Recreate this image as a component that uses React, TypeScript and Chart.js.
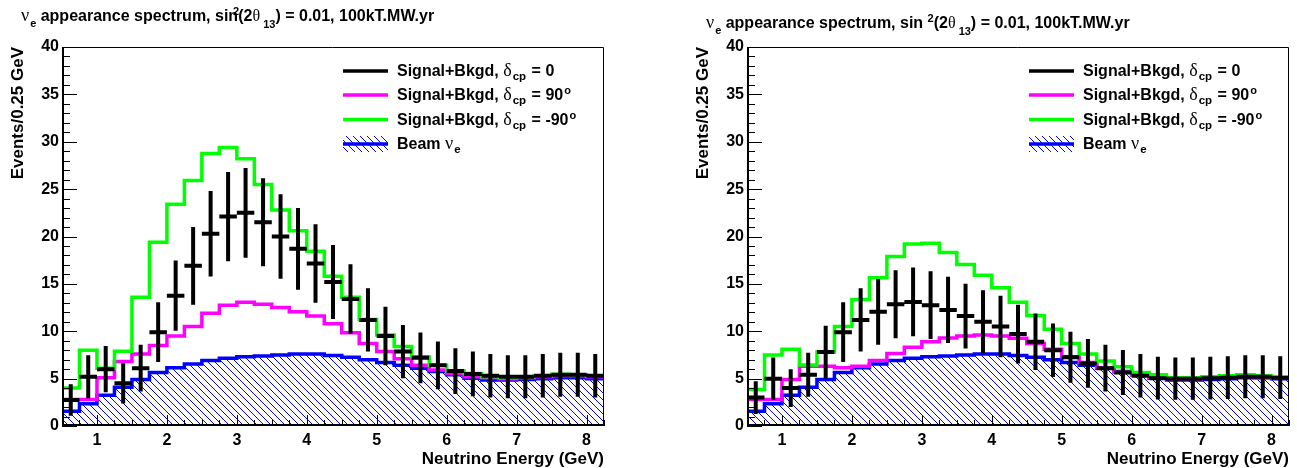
import React, { useEffect, useRef } from "react";
import { Chart, registerables } from "chart.js";

Chart.register(...registerables);

// ---------- data ----------
const binEdges = [0.5, 0.75, 1, 1.25, 1.5, 1.75, 2, 2.25, 2.5, 2.75, 3, 3.25, 3.5, 3.75, 4, 4.25, 4.5, 4.75, 5, 5.25, 5.5, 5.75, 6, 6.25, 6.5, 6.75, 7, 7.25, 7.5, 7.75, 8, 8.25];

const xTickLabels = [1, 2, 3, 4, 5, 6, 7, 8];
const yTickLabels = [0, 5, 10, 15, 20, 25, 30, 35, 40];

const beamNue = [1.55, 2.35, 3.25, 4.1, 4.9, 5.65, 6.15, 6.55, 6.9, 7.15, 7.3, 7.4, 7.5, 7.6, 7.6, 7.45, 7.25, 7.0, 6.7, 6.4, 6.1, 5.75, 5.4, 5.05, 4.85, 4.85, 4.9, 5.0, 5.1, 5.1, 5.0];

const leftSignal0 = [2.75, 5.2, 6.0, 4.5, 6.1, 9.9, 13.75, 16.9, 20.3, 22.1, 22.5, 21.5, 20.0, 18.7, 17.15, 15.2, 13.4, 11.2, 9.5, 7.85, 7.2, 6.4, 5.8, 5.5, 5.3, 5.2, 5.2, 5.3, 5.4, 5.4, 5.3];
const leftErr0 = [1.66, 2.28, 2.45, 2.12, 2.47, 3.15, 3.71, 4.11, 4.51, 4.7, 4.74, 4.64, 4.47, 4.32, 4.14, 3.9, 3.66, 3.35, 3.08, 2.8, 2.68, 2.53, 2.41, 2.35, 2.3, 2.28, 2.28, 2.3, 2.32, 2.32, 2.3];
const leftSignal90 = [2.8, 2.8, 5.1, 6.8, 7.6, 8.5, 9.5, 10.5, 11.9, 12.75, 13.05, 12.85, 12.5, 12.05, 11.6, 10.8, 9.85, 8.7, 7.85, 7.1, 6.4, 5.9, 5.55, 5.2, 5.1, 5.0, 5.1, 5.2, 5.3, 5.3, 5.2];
const leftSignalM90 = [4.0, 8.0, 6.1, 7.9, 13.6, 19.4, 23.4, 25.9, 28.75, 29.4, 28.2, 25.5, 22.8, 20.6, 18.45, 15.8, 13.6, 11.25, 9.6, 8.4, 7.3, 6.4, 5.8, 5.55, 5.2, 5.1, 5.2, 5.3, 5.45, 5.4, 5.3];

const rightSignal0 = [3.0, 5.0, 4.0, 5.4, 7.8, 9.9, 11.2, 12.05, 12.85, 13.1, 12.75, 12.25, 11.6, 11.0, 10.5, 9.7, 8.9, 8.0, 7.25, 6.6, 6.1, 5.65, 5.3, 5.05, 5.0, 5.0, 5.05, 5.1, 5.2, 5.2, 5.1];
const rightErr0 = [1.73, 2.24, 2.0, 2.32, 2.79, 3.15, 3.35, 3.47, 3.58, 3.62, 3.57, 3.5, 3.41, 3.32, 3.24, 3.11, 2.98, 2.83, 2.69, 2.57, 2.47, 2.38, 2.3, 2.25, 2.24, 2.24, 2.25, 2.26, 2.28, 2.28, 2.26];
const rightSignal90 = [2.8, 2.8, 4.9, 6.3, 6.3, 6.15, 6.3, 6.9, 7.65, 8.3, 8.9, 9.3, 9.5, 9.6, 9.5, 9.25, 8.7, 8.1, 7.3, 6.7, 6.15, 5.7, 5.4, 5.1, 5.0, 5.0, 5.1, 5.2, 5.2, 5.1, 5.1];
const rightSignalM90 = [3.85, 7.5, 8.1, 6.45, 7.8, 10.5, 13.35, 15.65, 17.9, 19.2, 19.3, 18.3, 17.05, 15.9, 14.6, 13.05, 11.65, 10.2, 8.7, 7.6, 6.85, 6.25, 5.65, 5.4, 5.1, 5.1, 5.2, 5.3, 5.4, 5.3, 5.15];

const yAxisTitle = "Events/0.25 GeV";
const xAxisTitle = "Neutrino Energy (GeV)";

// ---------- styling ----------
const SANS = "'Liberation Sans', Arial, Helvetica, sans-serif";
const SERIF = "'Liberation Serif', 'DejaVu Serif', serif";
const BLACK = "#000000";
const MAGENTA = "#ff00ff";
const GREEN = "#00ff00";
const BLUE = "#0000ff";

type Seg = { t: string; size: number; serif?: boolean; dx?: number; dy?: number };

function drawRich(ctx: CanvasRenderingContext2D, x: number, y: number, segs: Seg[]) {
  let cx = x;
  ctx.textAlign = "left";
  ctx.textBaseline = "alphabetic";
  for (const s of segs) {
    ctx.font = s.serif ? `${s.size}px ${SERIF}` : `bold ${s.size}px ${SANS}`;
    cx += s.dx || 0;
    ctx.fillText(s.t, cx, y + (s.dy || 0));
    cx += ctx.measureText(s.t).width;
  }
}

function makeHatch(): CanvasPattern | string {
  const c = document.createElement("canvas");
  c.width = 7;
  c.height = 7;
  const g = c.getContext("2d");
  if (!g) return BLUE;
  g.fillStyle = BLUE;
  for (let i = 0; i < 7; i++) g.fillRect(i, i, 1, 1);
  const p = g.createPattern(c, "repeat");
  return p || BLUE;
}

function histPoints(values: number[]) {
  const pts: { x: number; y: number }[] = [];
  values.forEach((v, i) => {
    pts.push({ x: binEdges[i], y: v });
    pts.push({ x: binEdges[i + 1], y: v });
  });
  return pts;
}

function errVertical(values: number[], errs: number[]) {
  const pts: { x: number; y: number | null }[] = [];
  values.forEach((v, i) => {
    const c = (binEdges[i] + binEdges[i + 1]) / 2;
    pts.push({ x: c, y: v - errs[i] });
    pts.push({ x: c, y: v + errs[i] });
    pts.push({ x: c, y: null });
  });
  return pts;
}

function errHorizontal(values: number[]) {
  const pts: { x: number; y: number | null }[] = [];
  values.forEach((v, i) => {
    pts.push({ x: binEdges[i], y: v });
    pts.push({ x: binEdges[i + 1], y: v });
    pts.push({ x: binEdges[i + 1], y: null });
  });
  return pts;
}

type PanelCfg = {
  canvasLeft: number;
  canvasWidth: number;
  yScaleWidth: number;
  padRight: number;
  title: Seg[];
  titleX: number;
  titleY: number;
  yTitleX: number;
  legendLineX: number;
  legendTextX: number;
  signal0: number[];
  err0: number[];
  signal90: number[];
  signalM90: number[];
};

const legendRowsY = [71, 95, 119.5, 144];

function Panel({ cfg }: { cfg: PanelCfg }) {
  const ref = useRef<HTMLCanvasElement>(null);
  useEffect(() => {
    const canvas = ref.current;
    if (!canvas) return;
    const hatch = makeHatch();
    const lineDs = (data: any[], color: string, width: number, extra: any = {}) => ({
      type: "line" as const,
      data,
      borderColor: color,
      borderWidth: width,
      pointRadius: 0,
      pointHoverRadius: 0,
      tension: 0,
      fill: false,
      spanGaps: false,
      borderCapStyle: "butt" as const,
      borderJoinStyle: "miter" as const,
      ...extra,
    });

    const decor = {
      id: "rootDecor",
      afterDraw(chart: any) {
        const ctx: CanvasRenderingContext2D = chart.ctx;
        const a = chart.chartArea;
        const xs = chart.scales.x;
        const ys = chart.scales.y;
        ctx.save();
        ctx.strokeStyle = BLACK;
        ctx.fillStyle = BLACK;
        ctx.lineWidth = 1;
        // y ticks (inside)
        ctx.beginPath();
        for (let v = 0; v <= 40; v += 1) {
          const py = Math.round(ys.getPixelForValue(v)) + 0.5;
          const len = yTickLabels.includes(v) ? 15 : 8;
          ctx.moveTo(a.left, py);
          ctx.lineTo(a.left + len, py);
        }
        // x ticks (inside)
        for (let i = 0; i < binEdges.length; i++) {
          const v = binEdges[i];
          const px = Math.round(xs.getPixelForValue(v)) + 0.5;
          const len = xTickLabels.includes(v) ? 11 : 6;
          ctx.moveTo(px, a.bottom);
          ctx.lineTo(px, a.bottom - len);
        }
        ctx.stroke();
        // frame
        ctx.beginPath();
        ctx.moveTo(a.left, a.top + 0.5);
        ctx.lineTo(a.right - 0.5, a.top + 0.5);
        ctx.lineTo(a.right - 0.5, a.bottom);
        ctx.stroke();
        ctx.lineWidth = 2;
        ctx.beginPath();
        ctx.moveTo(a.left + 1, a.top);
        ctx.lineTo(a.left + 1, a.bottom - 1);
        ctx.lineTo(a.right, a.bottom - 1);
        ctx.stroke();

        // title
        drawRich(ctx, cfg.titleX, cfg.titleY, cfg.title);

        // axis titles
        ctx.font = `bold 17px ${SANS}`;
        ctx.save();
        ctx.translate(cfg.yTitleX, a.top);
        ctx.rotate(-Math.PI / 2);
        ctx.textAlign = "right";
        ctx.textBaseline = "middle";
        ctx.fillText(yAxisTitle, 0, 0);
        ctx.restore();
        ctx.font = `bold 17px ${SANS}`;
        ctx.textAlign = "right";
        ctx.textBaseline = "alphabetic";
        ctx.fillText(xAxisTitle, a.right, 464);

        // legend
        const lx0 = cfg.legendLineX;
        const lx1 = cfg.legendLineX + 45;
        const colors = [BLACK, MAGENTA, GREEN];
        const vals = [" = 0", " = 90", " = -90"];
        for (let r = 0; r < 3; r++) {
          const yy = legendRowsY[r];
          ctx.strokeStyle = colors[r];
          ctx.lineWidth = 3.5;
          ctx.beginPath();
          ctx.moveTo(lx0, yy);
          ctx.lineTo(lx1, yy);
          ctx.stroke();
          ctx.fillStyle = BLACK;
          const segs: Seg[] = [
            { t: "Signal+Bkgd, ", size: 16 },
            { t: "δ", size: 18, serif: true, dx: 0 },
            { t: "cp", size: 11.5, dy: 4, dx: 1 },
            { t: vals[r], size: 16, dx: 1 },
          ];
          if (r > 0) segs.push({ t: "o", size: 11, dy: -6, dx: 1 });
          drawRich(ctx, cfg.legendTextX, yy + 5, segs);
        }
        const by = legendRowsY[3];
        ctx.fillStyle = hatch as any;
        ctx.fillRect(lx0, by - 8, 45, 16);
        ctx.strokeStyle = BLUE;
        ctx.lineWidth = 3.5;
        ctx.beginPath();
        ctx.moveTo(lx0, by);
        ctx.lineTo(lx1, by);
        ctx.stroke();
        ctx.fillStyle = BLACK;
        drawRich(ctx, cfg.legendTextX, by + 5, [
          { t: "Beam ", size: 16 },
          { t: "ν", size: 18, serif: true },
          { t: "e", size: 11.5, dy: 4, dx: 1 },
        ]);
        ctx.restore();
      },
    };

    const tickFont = { family: SANS, size: 16, weight: "bold" as const };

    const chart = new Chart(canvas, {
      type: "line",
      data: {
        datasets: [
          lineDs(errVertical(cfg.signal0, cfg.err0), BLACK, 4),
          lineDs(errHorizontal(cfg.signal0), BLACK, 4),
          lineDs(histPoints(cfg.signalM90), GREEN, 3.5),
          lineDs(histPoints(cfg.signal90), MAGENTA, 3.5),
          lineDs(histPoints(beamNue), BLUE, 3.5, { fill: "origin", backgroundColor: hatch }),
        ] as any,
      },
      options: {
        responsive: false,
        maintainAspectRatio: false,
        animation: false,
        devicePixelRatio: 1,
        events: [],
        layout: { padding: { left: 0, right: cfg.padRight, top: 47, bottom: 0 } },
        plugins: {
          legend: { display: false },
          tooltip: { enabled: false },
          title: { display: false },
        },
        scales: {
          x: {
            type: "linear",
            min: 0.5,
            max: 8.25,
            offset: false,
            grid: { display: false, drawTicks: false },
            border: { display: false },
            ticks: { font: tickFont, color: BLACK, padding: 5, maxRotation: 0, autoSkip: false },
            afterBuildTicks: (s: any) => {
              s.ticks = xTickLabels.map((v) => ({ value: v }));
            },
            afterFit: (s: any) => {
              s.height = 42;
            },
          },
          y: {
            type: "linear",
            min: 0,
            max: 40,
            grid: { display: false, drawTicks: false },
            border: { display: false },
            ticks: { font: tickFont, color: BLACK, padding: 3, autoSkip: false },
            afterBuildTicks: (s: any) => {
              s.ticks = yTickLabels.map((v) => ({ value: v }));
            },
            afterFit: (s: any) => {
              s.width = cfg.yScaleWidth;
            },
          },
        },
      } as any,
      plugins: [decor],
    });
    return () => chart.destroy();
  }, []);
  return (
    <canvas
      ref={ref}
      width={cfg.canvasWidth}
      height={468}
      style={{ position: "absolute", left: cfg.canvasLeft, top: 0, width: cfg.canvasWidth, height: 468 }}
    />
  );
}

const leftTitle: Seg[] = [
  { t: "ν", size: 18, serif: true },
  { t: "e", size: 11, dy: 6, dx: 1 },
  { t: " appearance spectrum, sin", size: 16 },
  { t: "2", size: 11, dy: -6, dx: -5 },
  { t: "(2", size: 16, dx: -1 },
  { t: "θ", size: 16, serif: true },
  { t: " 13", size: 11, dy: 7 },
  { t: ") = 0.01, 100kT.MW.yr", size: 16 },
];

const rightTitle: Seg[] = [
  { t: "ν", size: 18, serif: true },
  { t: "e", size: 11, dy: 6, dx: 1 },
  { t: " appearance spectrum, sin ", size: 16 },
  { t: "2", size: 11, dy: -6 },
  { t: "(2", size: 16 },
  { t: "θ", size: 16, serif: true },
  { t: " 13", size: 11, dy: 7 },
  { t: ") = 0.01, 100kT.MW.yr", size: 16 },
];

const leftCfg: PanelCfg = {
  canvasLeft: 0,
  canvasWidth: 640,
  yScaleWidth: 62,
  padRight: 36,
  title: leftTitle,
  titleX: 21,
  titleY: 21,
  yTitleX: 18.5,
  legendLineX: 343,
  legendTextX: 397,
  signal0: leftSignal0,
  err0: leftErr0,
  signal90: leftSignal90,
  signalM90: leftSignalM90,
};

const rightCfg: PanelCfg = {
  canvasLeft: 640,
  canvasWidth: 657,
  yScaleWidth: 107,
  padRight: 8,
  title: rightTitle,
  titleX: 66,
  titleY: 28,
  yTitleX: 63.5,
  legendLineX: 389,
  legendTextX: 443,
  signal0: rightSignal0,
  err0: rightErr0,
  signal90: rightSignal90,
  signalM90: rightSignalM90,
};

export default function App() {
  return (
    <div style={{ position: "absolute", left: 0, top: 0, width: 1297, height: 468, background: "#ffffff", overflow: "hidden" }}>
      <Panel cfg={leftCfg} />
      <Panel cfg={rightCfg} />
    </div>
  );
}
